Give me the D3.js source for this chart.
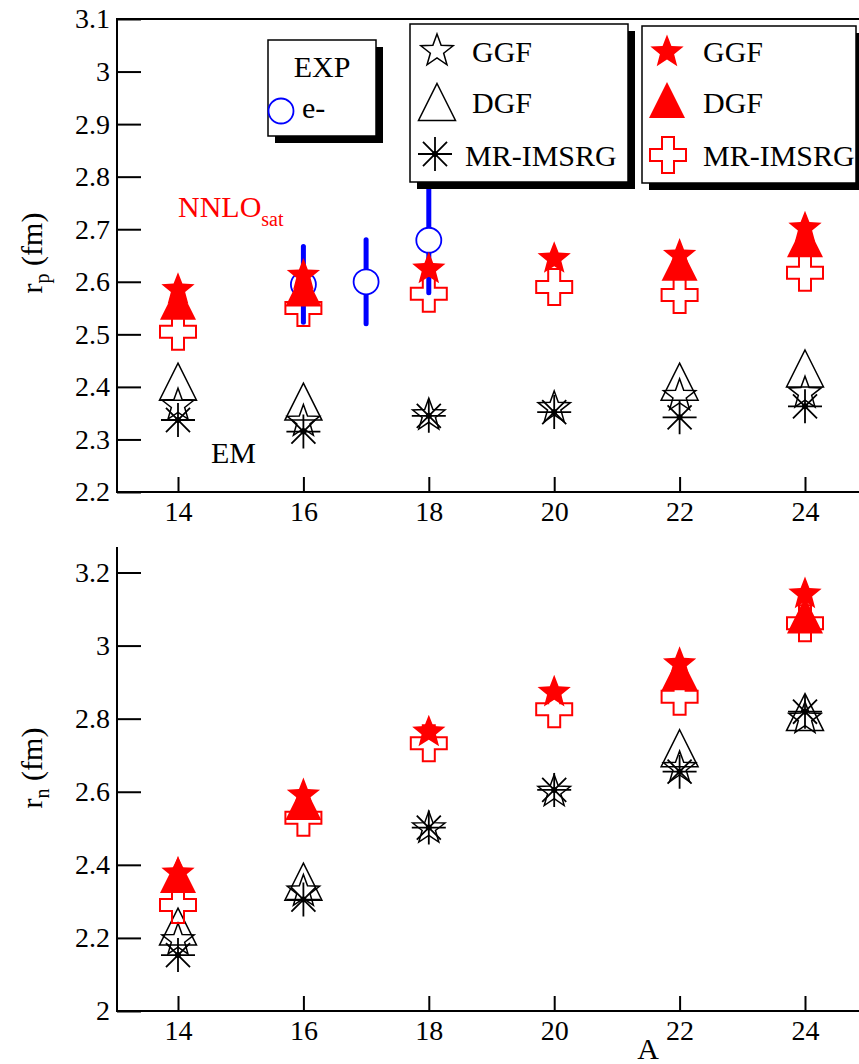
<!DOCTYPE html>
<html>
<head>
<script src="https://d3js.org/d3.v7.min.js"></script>
<style>
  html, body { margin: 0; padding: 0; background: #fff; }
  svg { display: block; }
  svg text { font-family: "Liberation Serif", "Times New Roman", serif !important; }
</style>
</head>
<body>
<svg id="chart" width="859" height="1064"></svg>
<script>
// mass numbers of the oxygen isotopes
const massA = [14, 16, 18, 20, 22, 24];

// upper panel: point-proton radius r_p (fm)
const rpGGFsat = [2.585, 2.612, 2.624, 2.644, 2.650, 2.702];
const rpDGFsat = [2.562, 2.587, null, null, 2.636, 2.681];
const rpIMSRGsat = [2.505, 2.550, 2.577, 2.590, 2.575, 2.617];
const rpGGFem = [2.365, 2.334, 2.346, 2.360, 2.383, 2.388];
const rpDGFem = [2.410, 2.372, null, null, 2.410, 2.435];
const rpIMSRGem = [2.337, 2.315, 2.345, 2.352, 2.342, 2.363];

// electron scattering data
const expA = [16, 17, 18];
const expRp = [2.595, 2.600, 2.679];
const expErr = [0.072, 0.080, 0.100];

// lower panel: point-neutron radius r_n (fm)
const rnGGFsat = [2.377, 2.591, 2.763, 2.872, 2.950, 3.141];
const rnDGFsat = [2.372, 2.572, null, null, 2.927, 3.082];
const rnIMSRGsat = [2.290, 2.529, 2.733, 2.826, 2.860, 3.061];
const rnGGFem = [2.194, 2.327, 2.500, 2.600, 2.665, 2.800];
const rnDGFem = [2.231, 2.354, null, null, 2.719, 2.818];
const rnIMSRGem = [2.153, 2.305, 2.502, 2.605, 2.655, 2.819];

// tick labels
const xTicks = [14, 16, 18, 20, 22, 24];
const rpTicks = [2.2, 2.3, 2.4, 2.5, 2.6, 2.7, 2.8, 2.9, 3, 3.1];
const rnTicks = [2, 2.2, 2.4, 2.6, 2.8, 3, 3.2];

const svg = d3.select("#chart");
const font = "'Liberation Serif', 'Times New Roman', serif";

const x = d3.scaleLinear().domain([14, 24]).range([178, 805]);
const yTop = d3.scaleLinear().domain([2.2, 3.1]).range([492, 19]);
const yBot = d3.scaleLinear().domain([2, 3.2]).range([1011, 572.5]);

// marker shapes
function starPath(R, r) {
  let p = [];
  for (let i = 0; i < 10; i++) {
    const ang = -Math.PI / 2 + i * Math.PI / 5;
    const rad = i % 2 === 0 ? R : r;
    p.push([rad * Math.cos(ang), rad * Math.sin(ang)]);
  }
  return "M" + p.map(q => q[0].toFixed(2) + "," + q[1].toFixed(2)).join("L") + "Z";
}
function trianglePath(s) {
  const h = s / 2;
  return `M0,${-h}L${h},${h}L${-h},${h}Z`;
}
function crossPath(s) {
  const h = s / 2, w = s / 6;
  return `M${-w},${-h}H${w}V${-w}H${h}V${w}H${w}V${h}H${-w}V${w}H${-h}V${-w}H${-w}Z`;
}
function asteriskPath(r) {
  const d = r * Math.SQRT1_2;
  return `M${-r},0H${r}M0,${-r}V${r}M${-d},${-d}L${d},${d}M${-d},${d}L${d},${-d}`;
}

const shapes = {
  starOpen: g => g.append("path").attr("d", starPath(17, 7)).attr("fill", "none").attr("stroke", "#000").attr("stroke-width", 1.5),
  triOpen: g => g.append("path").attr("d", trianglePath(37)).attr("fill", "none").attr("stroke", "#000").attr("stroke-width", 1.5),
  aster: g => {
    g.append("path").attr("d", asteriskPath(17)).attr("stroke", "#000").attr("stroke-width", 1.8);
    g.append("circle").attr("r", 3).attr("fill", "#000");
  },
  starRed: g => g.append("path").attr("d", starPath(17.5, 7.5)).attr("fill", "#ff0000"),
  triRed: g => g.append("path").attr("d", trianglePath(36)).attr("fill", "#ff0000"),
  crossRed: g => g.append("path").attr("d", crossPath(36)).attr("fill", "none").attr("stroke", "#ff0000").attr("stroke-width", 2),
  circBlue: g => g.append("circle").attr("r", 12.5).attr("fill", "#fff").attr("stroke", "#0000ff").attr("stroke-width", 1.8)
};

function pts(vals) {
  return massA.map((a, i) => ({ a: a, v: vals[i] })).filter(d => d.v != null);
}

function drawSet(layer, y, vals, shape) {
  layer.selectAll(null)
    .data(pts(vals))
    .enter()
    .append("g")
    .attr("transform", d => `translate(${x(d.a)},${y(d.v)})`)
    .each(function () { shapes[shape](d3.select(this)); });
}

function drawAxes(y, yTicks, yMinor, yEnd) {
  const y0 = y.range()[0];
  // x axis, ticks pointing inward
  const gx = svg.append("g").attr("transform", `translate(0,${y0})`);
  gx.call(d3.axisBottom(x).tickValues([15, 17, 19, 21, 23]).tickSize(-8).tickFormat(""));
  gx.call(d3.axisBottom(x).tickValues(xTicks).tickSize(-15).tickPadding(9).tickFormat(d => d));
  gx.attr("font-family", null);
  gx.selectAll(".domain").remove();
  gx.selectAll("line").attr("stroke", "#000").attr("stroke-width", 2);
  gx.selectAll("text").attr("font-size", 28).style("font-family", font).attr("fill", "#000");
  svg.append("line").attr("x1", 116).attr("x2", 859).attr("y1", y0).attr("y2", y0)
    .attr("stroke", "#000").attr("stroke-width", 2);

  // y axis
  const lo = y.domain()[0];
  const hiTick = yTicks[yTicks.length - 1] + (yEnd > yTicks[yTicks.length - 1] + 0.04 ? yMinor : 0);
  const minor = d3.range(0, Math.round((hiTick - lo) / yMinor) + 1).map(i => lo + i * yMinor);
  const gy = svg.append("g").attr("transform", "translate(117,0)");
  gy.call(d3.axisLeft(y).tickValues(minor).tickSize(-12).tickFormat(""));
  gy.call(d3.axisLeft(y).tickValues(yTicks).tickSize(-24).tickPadding(7).tickFormat(d => String(d)));
  gy.attr("font-family", null);
  gy.selectAll(".domain").remove();
  gy.selectAll("line").attr("stroke", "#000").attr("stroke-width", 2);
  gy.selectAll("text").attr("font-size", 28).style("font-family", font).attr("fill", "#000");
  svg.append("line").attr("x1", 117).attr("x2", 117).attr("y1", y(yEnd)).attr("y2", y0 + 1)
    .attr("stroke", "#000").attr("stroke-width", 2);
}

// ---------- upper panel ----------
drawAxes(yTop, rpTicks, 0.02, 3.1);
svg.append("line").attr("x1", 116).attr("x2", 859).attr("y1", 19).attr("y2", 19)
  .attr("stroke", "#000").attr("stroke-width", 2);

const upper = svg.append("g");
drawSet(upper, yTop, rpDGFem, "triOpen");
drawSet(upper, yTop, rpGGFem, "starOpen");
drawSet(upper, yTop, rpIMSRGem, "aster");

// experimental points with error bars
upper.selectAll(null).data(expA).enter().append("line")
  .attr("x1", d => x(d)).attr("x2", d => x(d))
  .attr("y1", (d, i) => yTop(expRp[i] + expErr[i]))
  .attr("y2", (d, i) => yTop(expRp[i] - expErr[i]))
  .attr("stroke", "#0000ff").attr("stroke-width", 5).attr("stroke-linecap", "round");
upper.selectAll(null).data(expA).enter().append("g")
  .attr("transform", (d, i) => `translate(${x(d)},${yTop(expRp[i])})`)
  .each(function () { shapes.circBlue(d3.select(this)); });

drawSet(upper, yTop, rpIMSRGsat, "crossRed");
drawSet(upper, yTop, rpDGFsat, "triRed");
drawSet(upper, yTop, rpGGFsat, "starRed");

// ---------- lower panel ----------
drawAxes(yBot, rnTicks, 0.05, 3.27);

const lower = svg.append("g");
drawSet(lower, yBot, rnDGFem, "triOpen");
drawSet(lower, yBot, rnGGFem, "starOpen");
drawSet(lower, yBot, rnIMSRGem, "aster");
drawSet(lower, yBot, rnIMSRGsat, "crossRed");
drawSet(lower, yBot, rnDGFsat, "triRed");
drawSet(lower, yBot, rnGGFsat, "starRed");

// ---------- axis titles ----------
function yTitle(cx, cy, sub) {
  const t = svg.append("text")
    .attr("transform", `translate(${cx},${cy}) rotate(-90)`)
    .attr("text-anchor", "middle")
    .attr("font-size", 30).style("font-family", font).attr("fill", "#000");
  t.append("tspan").text("r");
  t.append("tspan").text(sub).attr("font-size", 20).attr("dy", 7);
  t.append("tspan").text(" (fm)").attr("dy", -7);
}
yTitle(42, 253, "p");
yTitle(42, 768, "n");

svg.append("text").attr("x", 648).attr("y", 1059).attr("text-anchor", "middle")
  .attr("font-size", 30).style("font-family", font).text("A");

// annotations
const nn = svg.append("text").attr("x", 178).attr("y", 217)
  .attr("font-size", 30).style("font-family", font).attr("fill", "#ff0000");
nn.append("tspan").text("NNLO");
nn.append("tspan").text("sat").attr("font-size", 20).attr("dy", 9);

svg.append("text").attr("x", 211).attr("y", 463)
  .attr("font-size", 30).style("font-family", font).text("EM");

// ---------- legends ----------
function legendBox(x0, y0, w, h) {
  svg.append("rect").attr("x", x0 + 7).attr("y", y0 + 7).attr("width", w).attr("height", h).attr("fill", "#000");
  svg.append("rect").attr("x", x0).attr("y", y0).attr("width", w).attr("height", h)
    .attr("fill", "#fff").attr("stroke", "#000").attr("stroke-width", 1.5);
}
function legendItem(mx, my, shape, tx, ty, label) {
  const g = svg.append("g").attr("transform", `translate(${mx},${my})`);
  shapes[shape](g);
  svg.append("text").attr("x", tx).attr("y", ty)
    .attr("font-size", 30).style("font-family", font).attr("fill", "#000").text(label);
}

legendBox(268, 40, 108, 96);
svg.append("text").attr("x", 322).attr("y", 77).attr("text-anchor", "middle")
  .attr("font-size", 30).style("font-family", font).text("EXP");
legendItem(281, 111, "circBlue", 302, 118, "e-");

const legEM = ["GGF", "DGF", "MR-IMSRG"];
legendBox(410, 24, 218, 158);
legendItem(437, 51, "starOpen", 472, 62, legEM[0]);
legendItem(437, 102, "triOpen", 472, 113, legEM[1]);
legendItem(435, 154, "aster", 465, 166, legEM[2]);

legendBox(642, 26, 214, 157);
legendItem(667, 52, "starRed", 703, 62, legEM[0]);
legendItem(667, 100, "triRed", 703, 113, legEM[1]);
legendItem(668, 155, "crossRed", 703, 166, legEM[2]);
</script>
</body>
</html>
